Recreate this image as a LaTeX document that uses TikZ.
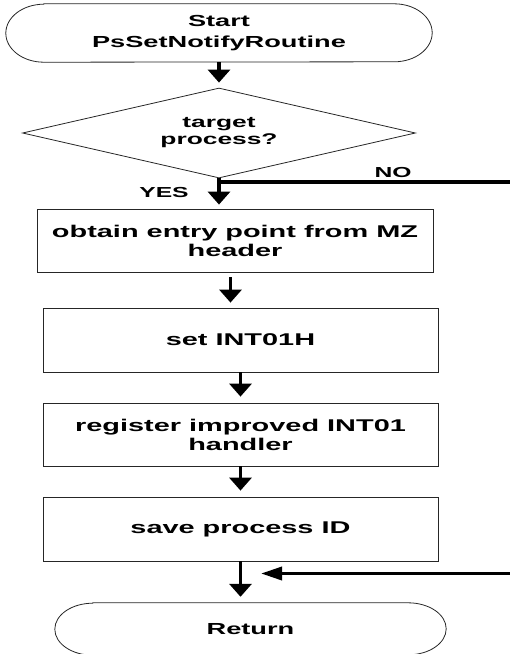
\documentclass[tikz,border=0pt]{standalone}
\usepackage{fontspec}
\newfontfamily\chartfont[FakeStretch=1.7]{Liberation Sans}
\usetikzlibrary{arrows.meta,shapes.geometric}

\begin{document}
\begin{tikzpicture}[x=1pt,y=1pt,
    every node/.style={font=\chartfont\bfseries\fontsize{17}{19}\selectfont},
    terminal/.style={inner sep=0pt, align=center},
    process/.style={draw=black!85, line width=0.8pt, minimum width=395pt,
      minimum height=63pt, inner sep=2pt, align=center},
    decision/.style={draw=black!85, line width=0.8pt, diamond, aspect=4.4,
      minimum width=393pt, minimum height=90pt, inner sep=0pt, align=center},
    flow/.style={line width=3.5pt, -{Triangle[width=22pt,length=13pt]}},
    back/.style={line width=3.5pt, -{Triangle[width=13pt,length=21pt]}},
    label/.style={font=\chartfont\bfseries\fontsize{14.5}{16}\selectfont}]
                  \useasboundingbox (0,0) rectangle (510,-654);
                  \node[terminal, minimum width=350pt, minimum height=58pt,
                    font=\chartfont\bfseries\fontsize{16}{21}\selectfont] (start) at (219,-33) {Start\\PsSetNotifyRoutine};
                  \node[decision, font=\chartfont\bfseries\fontsize{15.5}{17}\selectfont] (cond) at (219,-133) {target\\process?};
                  \node[process, minimum width=396pt] (obtain) at (235,-240.5) {obtain entry point from MZ\\header};
                  \node[process, minimum height=64pt] (setint) at (240.5,-340) {set INT01H};
                  \node[process] (reg) at (240.5,-434.5) {register improved INT01\\handler};
                  \node[process, minimum height=64pt] (save) at (240.5,-529) {save process ID};
                  \node[terminal, minimum width=315pt, minimum height=52pt,
                    font=\chartfont\bfseries\fontsize{16}{19}\selectfont] (ret) at (250.5,-629) {Return};
                  \node[label] (yes) at (164,-193) {YES};
                  \node[label] (no) at (393,-173) {NO};
                  \foreach \term/\rad in {start/29,ret/26}
                    \draw[draw=black!85, line width=0.8pt] (\term.north west) -- (\term.north east)
                      arc[start angle=90, end angle=-90, x radius=38pt, y radius=\rad pt] -- (\term.south west)
                      arc[start angle=270, end angle=90, x radius=38pt, y radius=\rad pt] -- cycle;
                  \coordinate (noend) at (510,-182);
                  \coordinate (backin) at (510,-573.5);
                  \coordinate (down2) at (230.5,-272);
                  \draw[flow, shorten >=5pt] (start.south) -- (cond.north);
                  \draw[flow, shorten >=4pt] (cond.south) -- (cond.south |- obtain.north);
                  \draw[line width=3.5pt] (cond.south |- noend) -- (noend);
                  \draw[flow, shorten <=5pt, shorten >=5pt] (down2) -- (down2 |- setint.north);
                  \draw[flow, shorten >=6pt] (setint.south) -- (reg.north);
                  \draw[flow, shorten >=6pt] (reg.south) -- (save.north);
                  \draw[flow, shorten >=6pt] (save.south) -- (save.south |- ret.north);
                  \draw[back, shorten >=20.5pt] (backin) -- (save.south |- backin);
              \end{tikzpicture}
\end{document}
